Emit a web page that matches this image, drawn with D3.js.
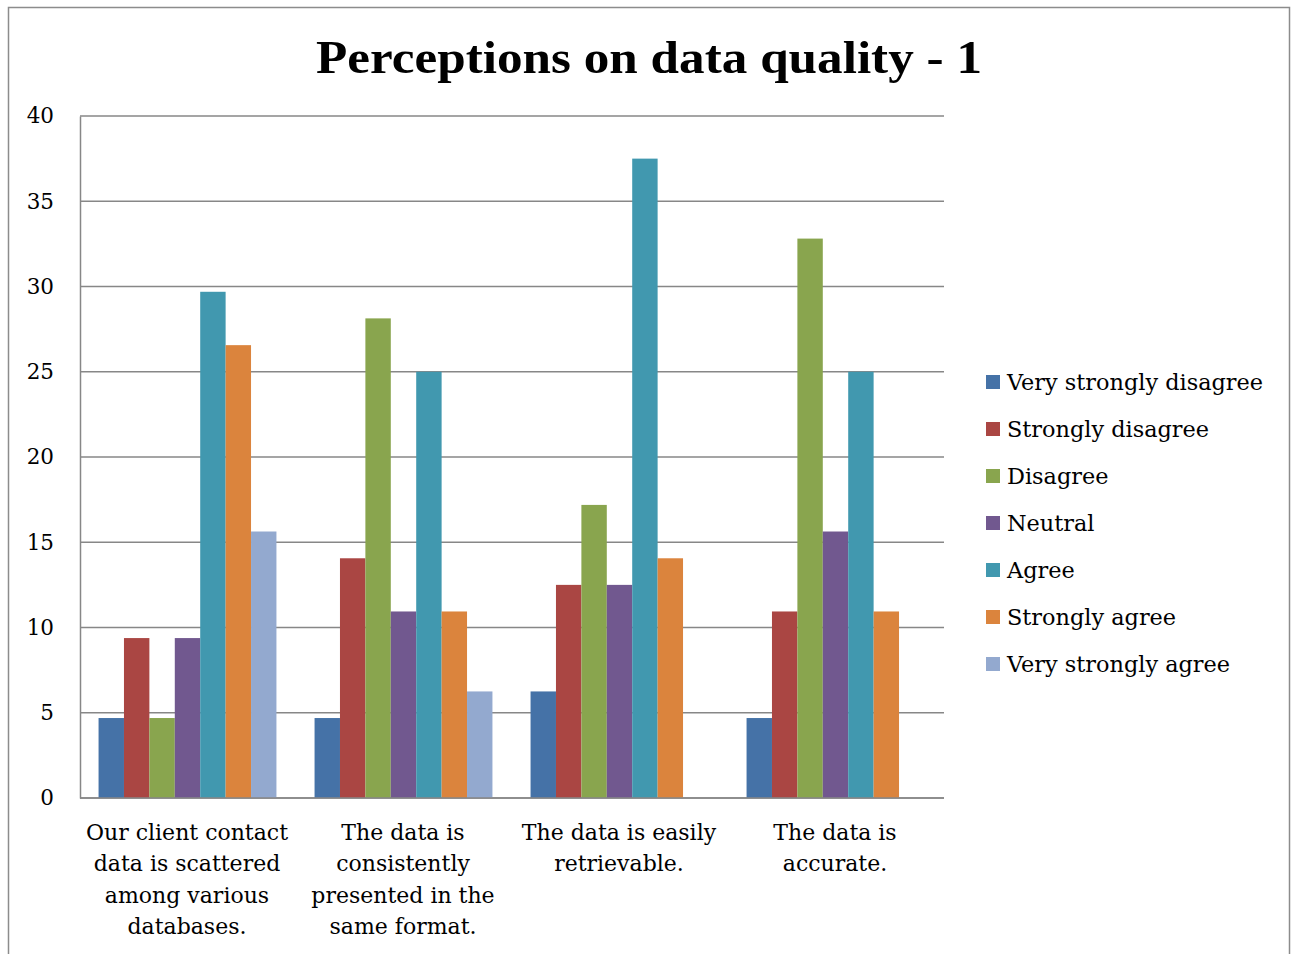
<!DOCTYPE html>
<html>
<head>
<meta charset="utf-8">
<script src="https://cdn.jsdelivr.net/npm/d3@7"></script>
<style>
  html, body { margin: 0; padding: 0; background: #fff; }
  svg { display: block; }
</style>
</head>
<body>
<svg id="chart" width="1295" height="954"></svg>
<script>
// Survey statements (x categories), one label line per array entry
const categories = [
  ["Our client contact", "data is scattered", "among various", "databases."],
  ["The data is", "consistently", "presented in the", "same format."],
  ["The data is easily", "retrievable."],
  ["The data is", "accurate."]
];

const seriesNames = [
  "Very strongly disagree",
  "Strongly disagree",
  "Disagree",
  "Neutral",
  "Agree",
  "Strongly agree",
  "Very strongly agree"
];

// Percentage of respondents per answer, one array per statement
const ourClientContact = [4.69, 9.38, 4.69, 9.38, 29.69, 26.56, 15.63];
const consistentFormat = [4.69, 14.06, 28.13, 10.94, 25.00, 10.94, 6.25];
const easilyRetrievable = [6.25, 12.50, 17.19, 12.50, 37.50, 14.06, 0];
const dataAccurate      = [4.69, 10.94, 32.81, 15.63, 25.00, 10.94, 0];

const yTicks = [0, 5, 10, 15, 20, 25, 30, 35, 40];

const colors = ["#4572A7", "#AA4643", "#89A54E", "#71588F", "#4198AF", "#DB843D", "#93A9CF"];

const rows = [ourClientContact, consistentFormat, easilyRetrievable, dataAccurate];

const svg = d3.select("#chart");
const font = "'DejaVu Serif', serif";

// outer chart frame
svg.append("rect")
  .attr("x", 8.5).attr("y", 7.5)
  .attr("width", 1281).attr("height", 960)
  .attr("fill", "none").attr("stroke", "#8c8c8c").attr("stroke-width", 1.5);

const plot = { left: 80, right: 944, top: 116, bottom: 798 };

const x0 = d3.scaleBand()
  .domain(d3.range(categories.length))
  .range([plot.left, plot.right])
  .paddingInner(0).paddingOuter(0);

const x1 = d3.scaleBand()
  .domain(d3.range(seriesNames.length))
  .range([0, x0.bandwidth()])
  .paddingOuter(0.75).paddingInner(0);

const y = d3.scaleLinear().domain([0, 40]).range([plot.bottom, plot.top]);

// horizontal gridlines
svg.append("g")
  .selectAll("line")
  .data(yTicks)
  .join("line")
  .attr("x1", plot.left).attr("x2", plot.right)
  .attr("y1", d => y(d)).attr("y2", d => y(d))
  .attr("stroke", "#878787").attr("stroke-width", 1.5);

// bars
svg.append("g")
  .selectAll("g")
  .data(rows)
  .join("g")
  .attr("transform", (d, i) => `translate(${x0(i)},0)`)
  .selectAll("rect")
  .data(d => d.map((v, k) => ({ v, k })))
  .join("rect")
  .attr("x", d => x1(d.k) - 0.5)
  .attr("width", x1.bandwidth())
  .attr("y", d => y(d.v))
  .attr("height", d => y(0) - y(d.v))
  .attr("fill", d => colors[d.k]);

// y axis line and tick labels
const yAxis = d3.axisLeft(y).tickValues(yTicks).tickSize(0).tickPadding(26);
const gy = svg.append("g").attr("transform", `translate(${plot.left},0)`).call(yAxis);
gy.select(".domain").attr("stroke", "#878787").attr("stroke-width", 1.5);
gy.selectAll("text")
  .attr("font-family", font).attr("font-size", 21.5).attr("fill", "#000");

// x axis baseline
svg.append("line")
  .attr("x1", plot.left).attr("x2", plot.right)
  .attr("y1", y(0)).attr("y2", y(0))
  .attr("stroke", "#878787").attr("stroke-width", 1.5);

// category labels
svg.append("g")
  .selectAll("text")
  .data(categories)
  .join("text")
  .attr("text-anchor", "middle")
  .attr("font-family", font).attr("font-size", 22).attr("fill", "#000")
  .each(function (lines, i) {
    const t = d3.select(this);
    lines.forEach((ln, j) => {
      t.append("tspan")
        .attr("x", x0(i) + x0.bandwidth() / 2 - 1)
        .attr("y", 840 + j * 31.3)
        .text(ln);
    });
  });

// title
svg.append("text")
  .attr("x", 649).attr("y", 73)
  .attr("text-anchor", "middle")
  .attr("font-family", "'Liberation Serif', serif")
  .attr("font-weight", "bold")
  .attr("font-size", 47)
  .attr("textLength", 666)
  .attr("lengthAdjust", "spacingAndGlyphs")
  .attr("fill", "#000")
  .text("Perceptions on data quality - 1");

// legend
const legend = svg.append("g")
  .selectAll("g")
  .data(seriesNames)
  .join("g")
  .attr("transform", (d, i) => `translate(986,${382 + i * 47})`);

legend.append("rect")
  .attr("x", 0).attr("y", -7).attr("width", 14).attr("height", 14)
  .attr("fill", (d, i) => colors[i]);

legend.append("text")
  .attr("x", 21).attr("y", 8)
  .attr("font-family", font).attr("font-size", 22.4).attr("fill", "#000")
  .text(d => d);
</script>
</body>
</html>
